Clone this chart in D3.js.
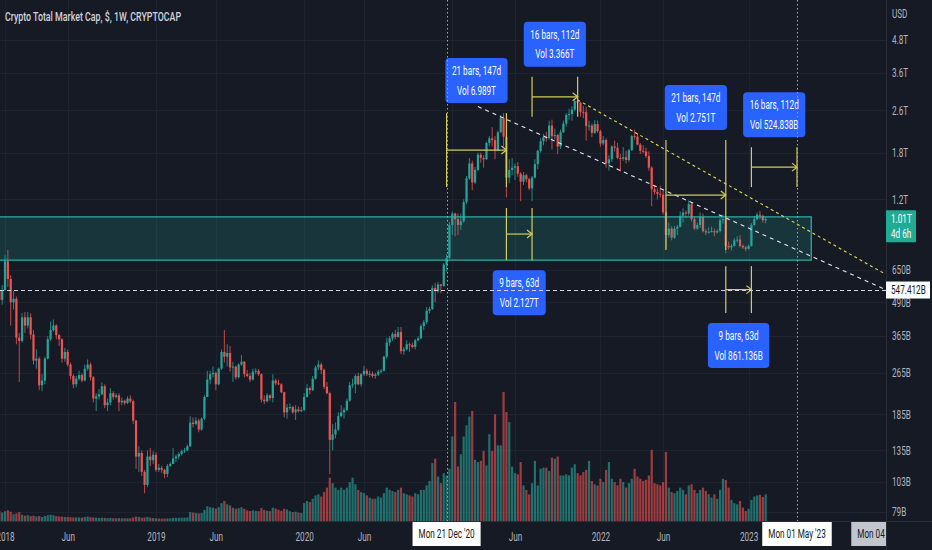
<!DOCTYPE html>
<html>
<head>
<meta charset="utf-8">
<script src="https://cdn.jsdelivr.net/npm/d3@7"></script>
<style>
  html, body { margin: 0; padding: 0; background: #161a25; }
  svg { display: block; }
</style>
</head>
<body>
<div id="chart"></div>
<script>
// weekly bars of CRYPTOCAP:TOTAL, values in billions of USD
var firstWeek = "2017-12-11";
var firstOpen = 480;

var closes = [
  545, 500, 545, 700, 600, 490, 505, 360, 350, 430,
  400, 430, 370, 295, 300, 238, 248, 300, 355, 385,
  400, 368, 355, 300, 318, 285, 258, 240, 252, 260,
  248, 275, 285, 255, 212, 216, 220, 236, 200, 205,
  222, 215, 218, 205, 208, 204, 212, 207, 175, 128,
  132, 112, 100, 128, 124, 130, 114, 116, 114, 110,
  118, 120, 126, 128, 131, 134, 135, 140, 172, 170,
  175, 162, 178, 215, 250, 262, 265, 240, 275, 318,
  305, 315, 278, 280, 255, 285, 292, 262, 258, 250,
  268, 270, 262, 210, 207, 218, 213, 248, 242, 240,
  224, 188, 196, 197, 188, 193, 190, 192, 215, 232,
  228, 252, 278, 285, 272, 235, 222, 148, 155, 162,
  182, 188, 192, 208, 238, 240, 258, 240, 262, 270,
  262, 263, 258, 261, 268, 270, 305, 345, 358, 372,
  362, 378, 320, 325, 340, 338, 332, 352, 358, 398,
  412, 455, 462, 555, 540, 572, 565, 680, 720, 960,
  1060, 1010, 960, 990, 1170, 1440, 1640, 1390, 1550, 1770,
  1720, 1700, 1960, 2040, 2010, 1840, 2150, 2430, 2070, 1450,
  1550, 1580, 1600, 1500, 1400, 1480, 1430, 1320, 1450, 1630,
  1830, 1990, 2060, 2040, 2280, 2080, 2100, 1900, 2150, 2320,
  2500, 2520, 2620, 2820, 2780, 2570, 2560, 2270, 2280, 2140,
  2310, 2170, 1950, 2010, 1640, 1700, 1900, 1880, 1720, 1710,
  1730, 1690, 1840, 2080, 2070, 1930, 1830, 1820, 1750, 1580,
  1310, 1280, 1260, 1250, 1070, 880, 930, 860, 930, 945,
  1040, 1070, 1060, 1150, 1010, 930, 960, 1030, 910, 900,
  905, 910, 900, 910, 1000, 1010, 800, 790, 800, 840,
  845, 800, 790, 780, 800, 960, 1010, 1050, 1040, 1000,
  1010
];

var highs = [
  560, 590, 570, 740, 772, 620, 540, 515, 375, 445,
  450, 450, 445, 385, 325, 305, 262, 305, 365, 415,
  422, 405, 372, 358, 330, 325, 290, 262, 258, 270,
  264, 285, 298, 290, 258, 222, 230, 244, 240, 212,
  232, 226, 222, 222, 214, 210, 216, 218, 210, 176,
  140, 135, 114, 135, 138, 134, 133, 120, 118, 115,
  120, 122, 138, 130, 133, 136, 138, 142, 182, 180,
  180, 178, 180, 218, 270, 270, 280, 268, 278, 325,
  385, 340, 335, 292, 282, 288, 310, 294, 272, 265,
  275, 276, 274, 264, 218, 222, 220, 262, 252, 250,
  242, 225, 202, 203, 199, 200, 198, 197, 222, 240,
  235, 258, 282, 295, 290, 275, 245, 225, 170, 172,
  188, 200, 196, 212, 245, 252, 262, 265, 265, 282,
  275, 270, 268, 265, 272, 274, 308, 360, 365, 378,
  385, 395, 395, 332, 352, 345, 345, 356, 365, 405,
  420, 470, 472, 568, 580, 585, 575, 690, 745, 985,
  1080, 1070, 1060, 1060, 1200, 1470, 1720, 1680, 1590, 1800,
  1800, 1760, 1980, 2080, 2250, 2080, 2180, 2500, 2540, 2100,
  1700, 1720, 1640, 1660, 1520, 1520, 1500, 1450, 1470, 1700,
  1850, 2040, 2120, 2160, 2380, 2400, 2220, 2120, 2200, 2380,
  2540, 2640, 2700, 2860, 2950, 2800, 2700, 2680, 2380, 2320,
  2390, 2380, 2200, 2080, 2040, 1760, 1920, 2000, 1960, 1780,
  1890, 1830, 1860, 2100, 2200, 2120, 1960, 1920, 1880, 1820,
  1600, 1360, 1320, 1350, 1290, 1080, 980, 950, 950, 960,
  1080, 1110, 1090, 1190, 1170, 1030, 980, 1070, 1060, 930,
  940, 945, 930, 925, 1020, 1050, 1030, 830, 815, 855,
  870, 880, 812, 800, 810, 975, 1040, 1070, 1085, 1050,
  1030
];

var lows = [
  470, 430, 480, 540, 560, 400, 460, 340, 245, 345,
  375, 390, 355, 285, 275, 228, 226, 240, 298, 350,
  380, 355, 335, 290, 292, 280, 250, 232, 234, 248,
  244, 246, 270, 248, 205, 190, 210, 218, 195, 190,
  200, 210, 212, 190, 200, 200, 202, 204, 170, 115,
  112, 108, 93, 98, 118, 120, 112, 112, 111, 106,
  107, 117, 120, 122, 125, 129, 132, 134, 139, 165,
  168, 158, 160, 176, 215, 240, 255, 228, 238, 272,
  290, 280, 268, 245, 250, 252, 282, 255, 255, 245,
  248, 262, 258, 205, 202, 205, 208, 205, 238, 238,
  222, 180, 178, 192, 186, 176, 188, 188, 190, 214,
  220, 226, 250, 272, 262, 230, 220, 110, 135, 150,
  160, 180, 178, 190, 206, 232, 222, 238, 235, 258,
  258, 255, 254, 252, 258, 264, 268, 300, 335, 350,
  355, 360, 312, 310, 322, 318, 328, 325, 348, 355,
  385, 405, 445, 458, 490, 530, 530, 560, 640, 715,
  880, 870, 880, 920, 980, 1150, 1420, 1300, 1370, 1530,
  1650, 1580, 1690, 1900, 1900, 1700, 1820, 2140, 1900, 1220,
  1380, 1480, 1420, 1460, 1180, 1360, 1390, 1300, 1180, 1440,
  1560, 1800, 1920, 1980, 2020, 1850, 2020, 1780, 1860, 2140,
  2260, 2400, 2380, 2580, 2640, 2460, 2430, 2000, 2180, 2060,
  2120, 2140, 1900, 1920, 1580, 1540, 1660, 1820, 1700, 1530,
  1680, 1640, 1660, 1830, 2020, 1920, 1780, 1790, 1720, 1540,
  1130, 1250, 1200, 1220, 1050, 780, 860, 840, 850, 880,
  940, 980, 1020, 1040, 990, 920, 920, 935, 900, 880,
  890, 900, 870, 890, 900, 970, 750, 775, 770, 795,
  825, 790, 780, 765, 775, 795, 955, 1000, 1010, 980,
  975
];

var volumes = [
  40, 45, 38, 44, 48, 42, 30, 34, 40, 28,
  24, 26, 22, 24, 20, 22, 18, 22, 26, 28,
  26, 22, 20, 20, 18, 18, 17, 16, 16, 16,
  15, 18, 20, 17, 16, 15, 14, 15, 14, 13,
  14, 13, 12, 13, 12, 12, 12, 12, 16, 20,
  18, 15, 16, 18, 15, 13, 12, 11, 11, 11,
  12, 12, 14, 14, 15, 15, 15, 16, 40, 38,
  36, 34, 36, 50, 66, 62, 60, 55, 62, 80,
  90, 75, 70, 60, 55, 58, 62, 55, 48, 45,
  48, 46, 44, 58, 50, 46, 44, 60, 56, 50,
  46, 55, 52, 44, 40, 42, 38, 36, 80, 90,
  85, 100, 115, 120, 110, 130, 150, 195, 170, 150,
  140, 150, 140, 150, 175, 195, 165, 140, 130, 125,
  115, 105, 100, 100, 110, 105, 125, 150, 140, 135,
  130, 140, 150, 125, 120, 115, 110, 125, 120, 140,
  140, 160, 180, 260, 280, 200, 170, 215, 205, 235,
  380, 535, 245, 300, 380, 430, 470, 495, 275, 265,
  270, 315, 250, 390, 315, 480, 340, 340, 580, 490,
  445, 245, 215, 210, 265, 160, 140, 120, 170, 270,
  160, 235, 240, 240, 225, 285, 280, 290, 205, 205,
  210, 205, 240, 255, 215, 205, 220, 230, 270, 180,
  165, 160, 190, 175, 230, 265, 190, 175, 160, 190,
  175, 150, 170, 190, 235, 200, 190, 180, 185, 205,
  320, 170, 165, 160, 175, 310, 150, 130, 125, 135,
  150, 140, 120, 160, 165, 140, 125, 140, 150, 135,
  120, 105, 120, 100, 140, 190, 185, 150, 95, 80,
  75, 90, 60, 45, 55, 95, 110, 115, 118, 108,
  120
];

// price axis (billions)
var priceTicks = [4800, 3600, 2600, 1800, 1200, 650, 490, 365, 265, 185, 135, 103, 79];
var priceTickLabels = ["4.8T", "3.6T", "2.6T", "1.8T", "1.2T", "650B", "490B", "365B", "265B", "185B", "135B", "103B", "79B"];

// time axis
var timeTicks = ["2018-01-01", "2018-06-04", "2019-01-07", "2019-06-03", "2020-01-06", "2020-06-01", "2021-06-07", "2022-01-03", "2022-06-06", "2023-01-02"];
var timeTickLabels = ["2018", "Jun", "2019", "Jun", "2020", "Jun", "Jun", "2022", "Jun", "2023"];
var hiddenTimeTicks = ["2021-01-04"];

// drawings
var zone = { start: "2017-10-02", end: "2023-06-05", top: 1030, bottom: 707 };
var trendWhite = { start: "2021-03-08", p1: 2690, end: "2023-12-04", p2: 547.412 };
var trendYellow = { start: "2021-11-08", p1: 2850, end: "2023-12-04", p2: 626 };
var ranges = [
  { start: "2020-12-21", end: "2021-05-17", top: 2541, bottom: 1335, above: true, text: ["21 bars, 147d", "Vol 6.989T"] },
  { start: "2021-05-17", end: "2021-07-19", top: 1113, bottom: 707, above: false, text: ["9 bars, 63d", "Vol 2.127T"] },
  { start: "2021-07-19", end: "2021-11-08", top: 3487, bottom: 2459, above: true, text: ["16 bars, 112d", "Vol 3.366T"] },
  { start: "2022-06-13", end: "2022-11-07", top: 2010, bottom: 772, above: true, text: ["21 bars, 147d", "Vol 2.751T"] },
  { start: "2022-11-07", end: "2023-01-09", top: 671, bottom: 446, above: false, text: ["9 bars, 63d", "Vol 861.136B"] },
  { start: "2023-01-09", end: "2023-05-01", top: 1888, bottom: 1335, above: true, text: ["16 bars, 112d", "Vol 524.838B"] }
];
var markerDates = ["2020-12-21", "2023-05-01"];
var markerLabels = ["Mon 21 Dec '20", "Mon 01 May '23"];
var edgeDate = "2023-12-04";
var edgeLabel = "Mon 04 Dec '23";
var crossPrice = 547.412;
var lastPrice = 1010;

var FONT = "Roboto, 'Liberation Sans', sans-serif";
var FS = 11.5;
var K = 0.68; // horizontal squeeze of the screenshot's text
var UP = "#26a69a", DOWN = "#ef5350";
var W = 932, H = 550, paneRight = 886, paneBottom = 521;

// narrow a text around its own anchor point
function condense(sel) {
  sel.each(function() {
    var t = d3.select(this);
    var tx = +t.attr("x") || 0;
    t.attr("transform", `translate(${tx},0) scale(${K},1) translate(${-tx},0)`);
  });
}

var bars = closes.map(function(c, i) {
  return {
    date: d3.utcMonday.offset(new Date(firstWeek), i),
    open: i === 0 ? firstOpen : closes[i - 1],
    high: highs[i],
    low: lows[i],
    close: c,
    volume: volumes[i]
  };
});

var svg = d3.select("#chart").append("svg")
  .attr("width", W)
  .attr("height", H)
  .attr("font-family", FONT);

svg.append("rect").attr("width", W).attr("height", H).attr("fill", "#161a25");

var defs = svg.append("defs");
defs.append("clipPath").attr("id", "pane")
  .append("rect").attr("width", paneRight).attr("height", paneBottom);
defs.append("clipPath").attr("id", "timeaxis")
  .append("rect").attr("y", paneBottom).attr("width", paneRight).attr("height", H - paneBottom);

var x = d3.scaleUtc()
  .domain([new Date("2019-01-07"), new Date("2023-05-01")])
  .range([156, 797]);
var y = d3.scaleLog()
  .domain([79, 4800])
  .range([512, 40]);
var yVol = d3.scaleLinear()
  .domain([0, d3.max(volumes)])
  .range([paneBottom, 392]);

var pane = svg.append("g").attr("clip-path", "url(#pane)");

// grid
pane.append("g").selectAll("line")
  .data(priceTicks)
  .enter().append("line")
  .attr("x1", 0).attr("x2", paneRight)
  .attr("y1", d => Math.round(y(d)) + 0.5)
  .attr("y2", d => Math.round(y(d)) + 0.5)
  .attr("stroke", "#1f2330");
pane.append("g").selectAll("line")
  .data(timeTicks.concat(hiddenTimeTicks))
  .enter().append("line")
  .attr("x1", d => Math.round(x(new Date(d))) + 0.5)
  .attr("x2", d => Math.round(x(new Date(d))) + 0.5)
  .attr("y1", 0).attr("y2", paneBottom)
  .attr("stroke", "#1f2330");

// volume
pane.append("g").selectAll("rect")
  .data(bars)
  .enter().append("rect")
  .attr("x", d => x(d.date) - 1.1)
  .attr("width", 2.2)
  .attr("y", d => yVol(d.volume))
  .attr("height", d => paneBottom - yVol(d.volume))
  .attr("fill", d => d.close >= d.open ? UP : DOWN)
  .attr("opacity", 0.62);

// candles
var candles = pane.append("g").selectAll("g")
  .data(bars)
  .enter().append("g");
candles.append("line")
  .attr("x1", d => x(d.date))
  .attr("x2", d => x(d.date))
  .attr("y1", d => y(d.high))
  .attr("y2", d => y(d.low))
  .attr("stroke", d => d.close >= d.open ? UP : DOWN)
  .attr("stroke-width", 0.8);
candles.append("rect")
  .attr("x", d => x(d.date) - 1.1)
  .attr("width", 2.2)
  .attr("y", d => y(Math.max(d.open, d.close)))
  .attr("height", d => Math.max(1, Math.abs(y(d.open) - y(d.close))))
  .attr("fill", d => d.close >= d.open ? UP : DOWN);

// support / resistance zone
pane.append("rect")
  .attr("x", x(new Date(zone.start)))
  .attr("width", x(new Date(zone.end)) - x(new Date(zone.start)))
  .attr("y", y(zone.top))
  .attr("height", y(zone.bottom) - y(zone.top))
  .attr("fill", "rgba(38,166,154,0.2)")
  .attr("stroke", "#2bb3ad")
  .attr("stroke-width", 1.2);

// trend lines
[[trendWhite, "#e6e8ee", "4,4"], [trendYellow, "#e2dc55", "3,3"]].forEach(function(t) {
  pane.append("line")
    .attr("x1", x(new Date(t[0].start))).attr("y1", y(t[0].p1))
    .attr("x2", x(new Date(t[0].end))).attr("y2", y(t[0].p2))
    .attr("stroke", t[1])
    .attr("stroke-width", 1.1)
    .attr("stroke-dasharray", t[2]);
});

// date ranges
var RANGE = "#d2cd5c";
ranges.forEach(function(r) {
  var x1 = x(new Date(r.start)), x2 = x(new Date(r.end));
  var yt = y(r.top), yb = y(r.bottom), ym = (yt + yb) / 2;
  var g = pane.append("g");
  [x1, x2].forEach(function(xx) {
    g.append("line")
      .attr("x1", xx).attr("x2", xx)
      .attr("y1", yt).attr("y2", yb)
      .attr("stroke", RANGE).attr("stroke-width", 1.2);
  });
  g.append("line")
    .attr("x1", x1).attr("x2", x2)
    .attr("y1", ym).attr("y2", ym)
    .attr("stroke", RANGE).attr("stroke-width", 1.2);
  g.append("path")
    .attr("d", `M${x2 - 5},${ym - 4}L${x2},${ym}L${x2 - 5},${ym + 4}`)
    .attr("fill", "none")
    .attr("stroke", RANGE).attr("stroke-width", 1.2);

  var boxH = 45;
  var top = r.above ? yt - 10 - boxH : yb + 10;
  var box = g.append("g");
  var rect = box.append("rect")
    .attr("y", top).attr("height", boxH)
    .attr("rx", 4)
    .attr("fill", "#2962ff");
  var w = 0;
  r.text.forEach(function(t, k) {
    var tx = box.append("text")
      .attr("x", (x1 + x2) / 2)
      .attr("y", top + 17 + k * 19.5)
      .attr("text-anchor", "middle")
      .attr("font-size", FS + 0.5)
      .attr("fill", "#ffffff")
      .text(t);
    w = Math.max(w, tx.node().getComputedTextLength() * K);
    condense(tx);
  });
  rect.attr("x", (x1 + x2) / 2 - w / 2 - 6.5).attr("width", w + 13);
});

// crosshair / markers
markerDates.forEach(function(d) {
  pane.append("line")
    .attr("x1", Math.round(x(new Date(d))) + 0.5)
    .attr("x2", Math.round(x(new Date(d))) + 0.5)
    .attr("y1", 0).attr("y2", paneBottom)
    .attr("stroke", "#a3a6af")
    .attr("stroke-dasharray", "1.5,2.5");
});
pane.append("line")
  .attr("x1", 0).attr("x2", paneRight)
  .attr("y1", Math.round(y(crossPrice)) + 0.5)
  .attr("y2", Math.round(y(crossPrice)) + 0.5)
  .attr("stroke", "#d1d4dc")
  .attr("stroke-dasharray", "4,3");

// title
svg.append("text")
  .attr("x", 5).attr("y", 21)
  .attr("font-size", 13)
  .attr("font-weight", 500)
  .attr("fill", "#d1d4dc")
  .text("Crypto Total Market Cap, $, 1W, CRYPTOCAP")
  .call(condense);

// axis frames
svg.append("line")
  .attr("x1", paneRight + 0.5).attr("x2", paneRight + 0.5)
  .attr("y1", 0).attr("y2", H)
  .attr("stroke", "#2a2e39");
svg.append("line")
  .attr("x1", 0).attr("x2", W)
  .attr("y1", paneBottom + 0.5).attr("y2", paneBottom + 0.5)
  .attr("stroke", "#2a2e39");

// price axis
var yAxis = d3.axisRight(y)
  .tickValues(priceTicks)
  .tickFormat((d, i) => priceTickLabels[i])
  .tickSize(0)
  .tickPadding(6);
svg.append("g")
  .attr("transform", `translate(${paneRight}, 0)`)
  .call(yAxis)
  .call(g => g.select(".domain").remove())
  .attr("font-family", FONT)
  .attr("font-size", FS + 0.5)
  .selectAll("text").attr("fill", "#b2b5be").call(condense);
svg.append("text")
  .attr("x", 892).attr("y", 18)
  .attr("font-size", FS + 0.5)
  .attr("fill", "#b2b5be")
  .text("USD")
  .call(condense);

// time axis
var xAxis = d3.axisBottom(x)
  .tickValues(timeTicks.map(d => new Date(d)))
  .tickFormat((d, i) => timeTickLabels[i])
  .tickSize(0)
  .tickPadding(11);
svg.append("g")
  .attr("transform", `translate(0, ${paneBottom})`)
  .call(xAxis)
  .call(g => g.select(".domain").remove())
  .attr("font-family", FONT)
  .attr("font-size", FS + 0.5)
  .selectAll("text").attr("fill", "#b2b5be").call(condense);

// axis label boxes
function timeLabel(d, label, bg, parent) {
  var cx = x(new Date(d));
  var g = parent.append("g");
  var r = g.append("rect").attr("y", paneBottom + 1).attr("height", 24).attr("fill", bg);
  var t = g.append("text")
    .attr("x", cx).attr("y", paneBottom + 17.5)
    .attr("text-anchor", "middle")
    .attr("font-size", FS + 0.5)
    .attr("fill", "#131722")
    .text(label);
  var w = t.node().getComputedTextLength() * K + 12;
  condense(t);
  r.attr("x", cx - w / 2).attr("width", w);
}
markerDates.forEach(function(d, i) { timeLabel(d, markerLabels[i], "#ffffff", svg); });
timeLabel(edgeDate, edgeLabel, "#c3c5cc", svg.append("g").attr("clip-path", "url(#timeaxis)"));

// last price label
var yl = y(lastPrice);
svg.append("rect")
  .attr("x", paneRight).attr("y", yl - 9)
  .attr("width", 30).attr("height", 32)
  .attr("rx", 1)
  .attr("fill", "#22ab94");
svg.append("text")
  .attr("x", paneRight + 5).attr("y", yl + 4)
  .attr("font-size", FS + 0.5).attr("fill", "#ffffff")
  .text("1.01T").call(condense);
svg.append("text")
  .attr("x", paneRight + 5).attr("y", yl + 19)
  .attr("font-size", FS + 0.5).attr("fill", "#ffffff")
  .text("4d 6h").call(condense);

// crosshair price label
var yc = y(crossPrice);
svg.append("rect")
  .attr("x", paneRight).attr("y", yc - 8)
  .attr("width", 44).attr("height", 17)
  .attr("fill", "#ffffff");
svg.append("text")
  .attr("x", paneRight + 5).attr("y", yc + 4.5)
  .attr("font-size", FS + 0.5).attr("fill", "#131722")
  .text("547.412B").call(condense);
</script>
</body>
</html>
